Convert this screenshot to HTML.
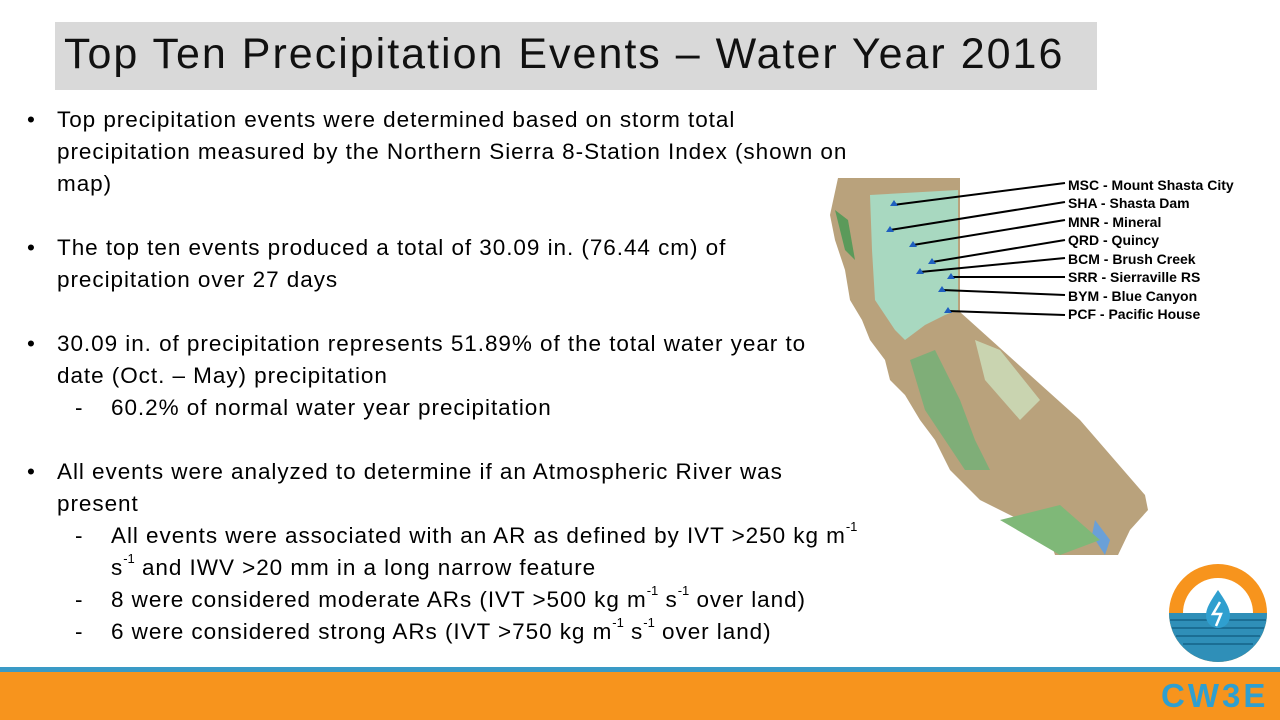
<!DOCTYPE html>
<html><head><style>
body{margin:0;width:1280px;height:720px;overflow:hidden;background:#fff;position:relative;font-family:"Liberation Sans",sans-serif;color:#000}
.t{position:absolute;left:55px;top:22px;width:1042px;height:68px;background:#d9d9d9}
.t span{position:absolute;left:9px;top:8px;font-size:43px;color:#111;white-space:nowrap;letter-spacing:2.0px}
.l{position:absolute;font-size:22.5px;white-space:nowrap;line-height:32px;letter-spacing:0.95px}
sup{font-size:13px;vertical-align:top;line-height:14px;letter-spacing:0}
</style></head><body>
<div class="t"><span>Top Ten Precipitation Events – Water Year 2016</span></div>
<div class="l" style="left:27px;top:104px">•</div>
<div class="l" style="left:57px;top:104px">Top precipitation events were determined based on storm total<br>precipitation measured by the Northern Sierra 8-Station Index (shown on<br>map)</div>
<div class="l" style="left:27px;top:232px">•</div>
<div class="l" style="left:57px;top:232px">The top ten events produced a total of 30.09 in. (76.44 cm) of<br>precipitation over 27 days</div>
<div class="l" style="left:27px;top:328px">•</div>
<div class="l" style="left:57px;top:328px">30.09 in. of precipitation represents 51.89% of the total water year to<br>date (Oct. – May) precipitation</div>
<div class="l" style="left:75px;top:392px">-</div>
<div class="l" style="left:111px;top:392px">60.2% of normal water year precipitation</div>
<div class="l" style="left:27px;top:456px">•</div>
<div class="l" style="left:57px;top:456px">All events were analyzed to determine if an Atmospheric River was<br>present</div>
<div class="l" style="left:75px;top:520px">-</div>
<div class="l" style="left:111px;top:520px">All events were associated with an AR as defined by IVT &gt;250 kg m<sup>-1</sup><br>s<sup>-1</sup> and IWV &gt;20 mm in a long narrow feature</div>
<div class="l" style="left:75px;top:584px">-</div>
<div class="l" style="left:111px;top:584px">8 were considered moderate ARs (IVT &gt;500 kg m<sup>-1</sup> s<sup>-1</sup> over land)</div>
<div class="l" style="left:75px;top:616px">-</div>
<div class="l" style="left:111px;top:616px">6 were considered strong ARs (IVT &gt;750 kg m<sup>-1</sup> s<sup>-1</sup> over land)</div>
<svg style="position:absolute;left:0;top:0" width="1280" height="720">
<polygon fill="#b9a27c" points="838,178 960,178 960,312 1080,420 1145,495 1148,510 1130,530 1118,555 1055,555 1050,540 1020,520 980,500 950,470 935,440 920,420 905,395 890,380 885,360 870,340 862,320 850,300 845,270 835,240 830,215"/>
<polygon fill="#a8d8c0" points="870,195 958,190 958,310 945,315 925,325 905,340 895,330 875,300 872,250"/>
<polygon fill="#7fae78" points="910,360 935,350 960,400 975,440 990,470 965,470 945,440 925,410"/>
<polygon fill="#c9d4b0" points="975,340 1000,350 1040,400 1020,420 985,380"/>
<polygon fill="#5b9a5a" points="835,210 848,220 855,260 845,250"/>
<polygon fill="#6aa0d8" points="1095,520 1110,540 1105,555 1092,535"/>
<polygon fill="#7fb878" points="1000,520 1060,505 1100,540 1060,555"/>
<g stroke="#000" stroke-width="2" fill="none">
<polyline points="893,205 1065,183"/><polyline points="890,230 1065,202"/>
<polyline points="913,245 1065,220"/><polyline points="932,262 1065,240"/>
<polyline points="920,272 1065,258"/><polyline points="950,277 1065,277"/>
<polyline points="942,290 1065,295"/><polyline points="948,311 1065,315"/>
</g>
<g fill="#1f5fbf"><path d="M890,206l4,-6 4,6z"/><path d="M886,232l4,-6 4,6z"/><path d="M909,247l4,-6 4,6z"/><path d="M928,264l4,-6 4,6z"/><path d="M916,274l4,-6 4,6z"/><path d="M947,279l4,-6 4,6z"/><path d="M938,292l4,-6 4,6z"/><path d="M944,313l4,-6 4,6z"/></g>
<g font-family="Liberation Sans,sans-serif" font-weight="bold" font-size="14" fill="#000">
<text x="1068" y="190">MSC - Mount Shasta City</text><text x="1068" y="208">SHA - Shasta Dam</text>
<text x="1068" y="227">MNR - Mineral</text><text x="1068" y="245">QRD - Quincy</text>
<text x="1068" y="264">BCM - Brush Creek</text><text x="1068" y="282">SRR - Sierraville RS</text>
<text x="1068" y="301">BYM - Blue Canyon</text><text x="1068" y="319">PCF - Pacific House</text>
</g>
<rect x="0" y="667" width="1280" height="5" fill="#3a9ac6"/>
<rect x="0" y="672" width="1280" height="48" fill="#f7941d"/>
<circle cx="1218" cy="613" r="49" fill="#f7941d"/>
<circle cx="1218" cy="613" r="35" fill="#fff"/>
<path d="M1169,613 A49,49 0 0 0 1267,613 Z" fill="#2f8fb8"/>
<g stroke="#1b6e94" stroke-width="2"><line x1="1170" y1="620" x2="1266" y2="620"/><line x1="1172" y1="628" x2="1264" y2="628"/><line x1="1176" y1="636" x2="1260" y2="636"/><line x1="1183" y1="644" x2="1253" y2="644"/></g>
<path d="M1218,590 C1226,602 1230,608 1230,616 A12,12 0 0 1 1206,616 C1206,608 1210,602 1218,590Z" fill="#2f9fcf"/>
<path d="M1220,602 l-7,12 h8 l-5,12" stroke="#fff" stroke-width="2.5" fill="none"/>
<text x="1161" y="707" font-family="Liberation Sans,sans-serif" font-weight="bold" font-size="33" letter-spacing="3" fill="#2f9fcf">CW3E</text>
</svg>
</body></html>
